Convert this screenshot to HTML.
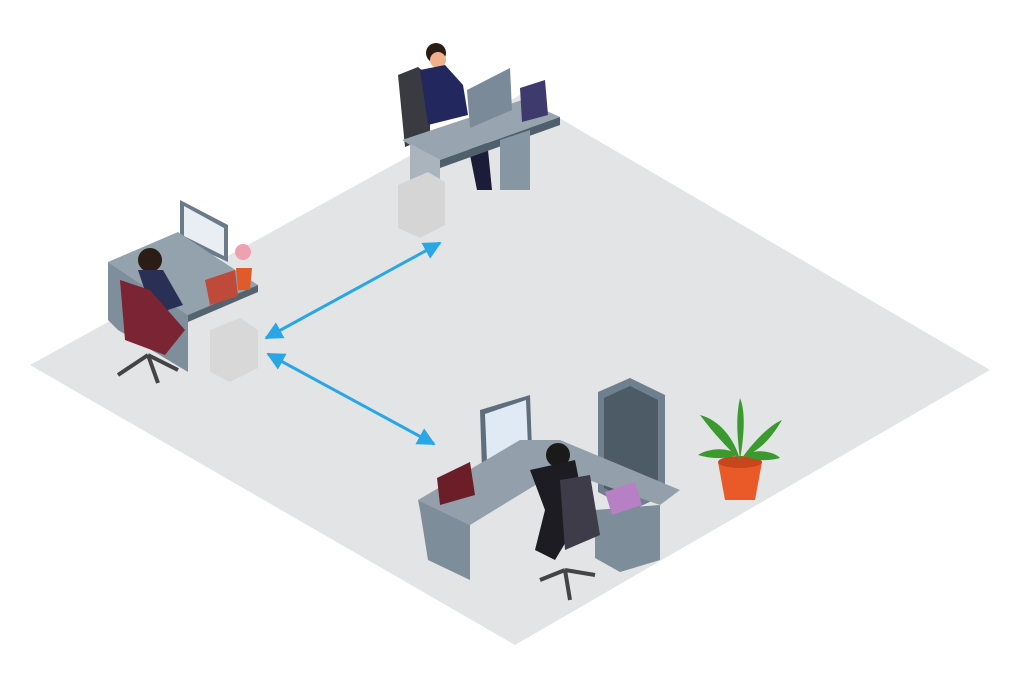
<!DOCTYPE html>
<html><head><style>body{margin:0;background:#fff}svg{display:block}</style></head><body>
<svg width="1024" height="696" viewBox="0 0 1024 696" xmlns="http://www.w3.org/2000/svg">
<polygon points="30,365 520,95 990,370 515,645" fill="#e3e4e6"/>
<defs><marker id="a" viewBox="0 0 10 10" refX="9" refY="5" markerWidth="6" markerHeight="6" orient="auto-start-reverse"><path d="M0,0L10,5L0,10z" fill="#29a6e6"/></marker></defs>
<line x1="266" y1="338" x2="440" y2="243" stroke="#29a6e6" stroke-width="3" marker-start="url(#a)" marker-end="url(#a)"/>
<line x1="268" y1="354" x2="434" y2="444" stroke="#29a6e6" stroke-width="3" marker-start="url(#a)" marker-end="url(#a)"/>
<!-- top desk -->
<path d="M398,75 l20,-8 l12,10 l0,60 l-25,10z" fill="#3a3b40"/>
<circle cx="436" cy="53" r="10" fill="#2b1d16"/><circle cx="438" cy="60" r="8" fill="#f0b08a"/>
<path d="M420,70 l25,-5 l18,20 l5,30 l-40,10z" fill="#22285e"/>
<path d="M467,140 l10,50 l10,0 l-5,-50z M477,140 l5,50 l10,0 l-5,-50z" fill="#1a1c38"/>
<polygon points="402,140 522,100 560,117 440,160" fill="#98a5b0"/>
<polygon points="402,140 440,160 440,210 410,195 410,145" fill="#a9b4bd"/>
<polygon points="440,160 560,117 560,125 440,168" fill="#4f5f6c"/>
<polygon points="500,140 530,130 530,190 500,190" fill="#8796a3"/>
<polygon points="467,90 510,68 512,110 470,128" fill="#7a8a98"/>
<polygon points="520,88 545,80 548,115 522,122" fill="#3f3a6e"/>
<polygon points="398,185 428,172 445,182 445,225 420,238 398,228" fill="#d5d5d5"/>
<!-- left desk -->
<polygon points="180,200 228,225 228,262 180,240" fill="#6a7a88"/><polygon points="184,206 224,228 224,256 184,236" fill="#e8eef4"/>
<polygon points="108,262 178,232 258,285 188,315" fill="#94a2ae"/>
<polygon points="108,262 188,315 188,372 118,330 108,320" fill="#7e8e9b"/>
<polygon points="188,315 258,285 258,292 188,322" fill="#55636f"/>
<polygon points="210,330 240,318 258,330 258,368 230,382 210,372" fill="#d8d8d8"/>
<circle cx="150" cy="260" r="12" fill="#2b1d16"/>
<path d="M138,270 l25,0 l20,35 l-30,10z" fill="#2a2f55"/>
<path d="M120,280 l30,10 l35,40 l-20,25 l-40,-15z" fill="#7a2434"/>
<path d="M148,355 l-30,20 M148,355 l10,28 M148,355 l30,15" stroke="#444" stroke-width="4"/>
<polygon points="205,280 235,270 238,296 210,305" fill="#c04a3a"/>
<circle cx="243" cy="252" r="8" fill="#f0a1b0"/><polygon points="236,268 252,268 250,290 238,290" fill="#e05a2a"/>
<!-- bottom desk -->
<polygon points="598,392 630,378 665,395 665,495 632,510 598,492" fill="#6e7f8d"/>
<polygon points="604,398 630,386 658,400 658,490 632,502 604,488" fill="#4c5b66"/>
<polygon points="480,410 530,395 532,450 482,470" fill="#5e6e7c"/><polygon points="485,414 526,400 528,446 487,462" fill="#dfeaf4"/>
<polygon points="418,500 520,440 560,440 680,490 660,505 560,470 470,525" fill="#93a0ab"/>
<polygon points="418,500 470,525 470,580 428,560 420,510" fill="#7d8d99"/>
<polygon points="595,510 660,505 660,560 620,572 595,558" fill="#7d8d99"/>
<polygon points="437,478 470,462 475,495 440,505" fill="#6b1e28"/>
<circle cx="558" cy="455" r="12" fill="#1a1a1a"/>
<path d="M530,470 l45,-10 l10,50 l-30,50 l-20,-10 l10,-40z" fill="#1c1c22"/>
<path d="M560,480 l30,-5 l10,60 l-35,15z" fill="#3e3c48"/>
<path d="M565,570 l-25,10 M565,570 l5,30 M565,570 l30,5" stroke="#444" stroke-width="4"/>
<polygon points="605,492 635,482 642,505 612,515" fill="#b77fc4"/>
<!-- plant -->
<polygon points="718,462 762,462 755,500 725,500" fill="#ea5a28"/>
<ellipse cx="740" cy="462" rx="22" ry="6" fill="#c8461c"/>
<path d="M740,460 C735,440 720,420 700,415 C715,435 725,445 740,460 M740,460 C745,430 745,410 740,398 C735,420 738,440 740,460 M742,458 C755,440 770,425 782,420 C770,440 760,450 742,458 M738,455 C725,445 705,450 698,455 C715,460 728,458 738,455 M744,455 C758,448 775,452 780,458 C765,462 752,460 744,455" fill="#3b9a2e"/>
</svg>
</body></html>
